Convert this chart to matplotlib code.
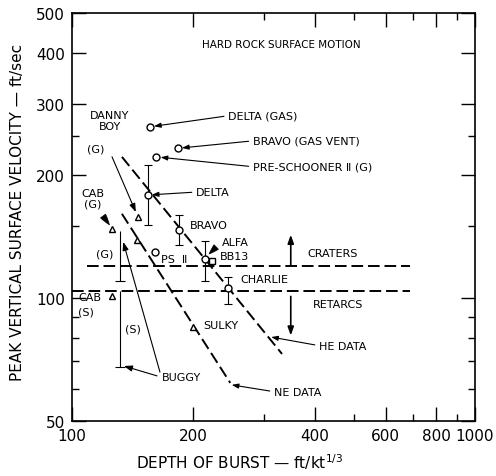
import numpy as np
import matplotlib.pyplot as plt

plt.rcParams['font.family'] = ['DejaVu Sans']
plt.rcParams['mathtext.default'] = 'regular'

# open circles (depth of burst ft/kt^1/3, peak velocity ft/sec)
circ_x = [156, 183, 162, 154, 184, 214, 244, 161]
circ_y = [263, 233, 222, 179, 147, 125, 106, 130]

# open triangles: DANNY BOY (G), CAB (G), unlabeled, CAB (S), SULKY
tri_x = [146, 126, 145, 126, 200]
tri_y = [158, 148, 139, 101, 85]

# square: BB13
sq_x = [222]
sq_y = [123]

# error bars on DELTA, BRAVO, ALFA, CHARLIE
err_x = [154, 184, 214, 244]
err_lo = [151, 135, 110, 97]
err_hi = [212, 160, 138, 113]

# BUGGY ranges, (G) and (S)
buggy_x = [131.5, 131.5]
buggy_lo = [110, 68]
buggy_hi = [146, 104]

# fitted lines
he_x = [133, 332]
he_y = [222, 73]
ne_x = [133, 247]
ne_y = [161, 62]

# crater / retarc boundaries
craters_y = 120
craters_x = [109, 690]
retarcs_y = 104
retarcs_x = [100, 690]

fig = plt.figure(figsize=(4.96, 4.77), dpi=100)
ax = fig.add_axes([72 / 496, 55 / 477, 403 / 496, 408 / 477])
ax.set_xscale('log')
ax.set_yscale('log')
ax.set_xlim(100, 1000)
ax.set_ylim(50, 500)

dash = (6, 2.5)
ax.plot(he_x, he_y, color='black', lw=1.4, dashes=dash)
ax.plot(ne_x, ne_y, color='black', lw=1.4, dashes=dash)
ax.plot(craters_x, [craters_y] * 2, color='black', lw=1.4, dashes=dash)
ax.plot(retarcs_x, [retarcs_y] * 2, color='black', lw=1.4, dashes=dash)

# error bars drawn from their end values
ax.vlines(err_x, err_lo, err_hi, color='black', lw=0.8)
ax.plot(err_x + err_x, err_lo + err_hi, ls='none', marker='_', ms=6, mew=0.8, color='black')
ax.vlines(buggy_x, buggy_lo, buggy_hi, color='black', lw=0.8)
ax.plot(buggy_x, buggy_lo, ls='none', marker='_', ms=7, mew=0.8, color='black')

ax.plot(circ_x, circ_y, ls='none', marker='o', ms=5, mfc='white', mec='black', mew=1)
ax.plot(tri_x, tri_y, ls='none', marker='^', ms=5, mfc='white', mec='black', mew=1)
ax.plot(sq_x, sq_y, ls='none', marker='s', ms=4.5, mfc='white', mec='black', mew=1)

fs = 8
arrow = dict(arrowstyle='-|>,head_length=0.5,head_width=0.18', color='black', lw=0.8,
             shrinkA=1, shrinkB=3, relpos=(0, 0.5))

# labels with arrows to their circles
ax.annotate('DELTA (GAS)', xy=(circ_x[0], circ_y[0]), xytext=(244, 280), ha='left', va='center',
            fontsize=fs, arrowprops=arrow)
ax.annotate('BRAVO (GAS VENT)', xy=(circ_x[1], circ_y[1]), xytext=(281, 243), ha='left', va='center',
            fontsize=fs, arrowprops=arrow)
ax.annotate('PRE-SCHOONER Ⅱ (G)', xy=(circ_x[2], circ_y[2]), xytext=(281, 210), ha='left', va='center',
            fontsize=fs, arrowprops=arrow)
ax.annotate('DELTA', xy=(circ_x[3], circ_y[3]), xytext=(203, 182), ha='left', va='center',
            fontsize=fs, arrowprops=arrow)
ax.annotate('HE DATA', xy=(312, 80.3), xytext=(410, 76.5), ha='left', va='center',
            fontsize=fs, arrowprops=dict(arrow, shrinkB=0))
ax.annotate('NE DATA', xy=(249, 61.3), xytext=(317, 59), ha='left', va='center',
            fontsize=fs, arrowprops=dict(arrow, shrinkB=0))

thin = dict(arrowstyle='-|>,head_length=0.5,head_width=0.18', color='black', lw=0.8,
            shrinkA=0, shrinkB=0)
wedge = dict(arrowstyle='wedge,tail_width=0.45,shrink_factor=0.6', color='black', lw=0.5,
             shrinkA=0, shrinkB=2)
ax.annotate('', xy=(144, 162.6), xytext=(125.7, 222), arrowprops=thin)   # DANNY BOY
ax.annotate('', xy=(125, 149.4), xytext=(119.4, 159), arrowprops=wedge)  # CAB (G)
ax.annotate('', xy=(216.5, 127), xytext=(228, 133.5), arrowprops=wedge)  # ALFA
ax.annotate('', xy=(134, 137.4), xytext=(165.3, 65.9), arrowprops=thin)  # BUGGY (G)
ax.annotate('', xy=(134.5, 68.2), xytext=(162.5, 64.5), arrowprops=thin) # BUGGY (S)
ax.annotate('', xy=(349, 143), xytext=(349, craters_y), arrowprops=dict(thin, lw=1.2))
ax.annotate('', xy=(349, 81), xytext=(349, 101), arrowprops=dict(thin, lw=1.2))

labels = [
    ('HARD ROCK SURFACE MOTION', 330, 420, 'center', 7.5),
    ('DANNY\nBOY', 124, 272, 'center', fs),
    ('(G)', 114.7, 233, 'center', fs),
    ('CAB\n(G)', 112.5, 176, 'center', fs),
    ('(G)', 120.7, 129, 'center', fs),
    ('CAB', 103.5, 100.4, 'left', fs),
    ('(S)', 103.5, 92.5, 'left', fs),
    ('(S)', 141.7, 84.1, 'center', fs),
    ('BRAVO', 196, 151, 'left', fs),
    ('ALFA', 235.6, 137.4, 'left', fs),
    ('BB13', 232.9, 126.9, 'left', fs),
    ('PS  Ⅱ', 166, 124.7, 'left', fs),
    ('CHARLIE', 261, 111.4, 'left', fs),
    ('SULKY', 211.4, 86, 'left', fs),
    ('BUGGY', 167, 64.1, 'left', fs),
    ('CRATERS', 383, 129, 'left', fs),
    ('RETARCS', 396, 96.8, 'left', fs),
]
for txt, x, y, ha, size in labels:
    ax.text(x, y, txt, ha=ha, va='center', fontsize=size, linespacing=1.1)

x_major = [100, 200, 400, 600, 800, 1000]
x_minor = [300, 500, 700, 900]
y_major = [50, 100, 200, 300, 400, 500]
y_minor = [60, 70, 80, 90, 150, 250]
ax.set_xticks(x_major, [str(v) for v in x_major])
ax.set_xticks(x_minor, minor=True)
ax.set_yticks(y_major, [str(v) for v in y_major])
ax.set_yticks(y_minor, minor=True)
ax.xaxis.set_minor_formatter(plt.NullFormatter())
ax.yaxis.set_minor_formatter(plt.NullFormatter())
ax.tick_params(which='both', direction='in', top=True, right=True, labelsize=11, width=1)
ax.tick_params(which='major', length=10, pad=5)
ax.tick_params(which='minor', length=5)
for s in ax.spines.values():
    s.set_linewidth(1.2)

fig.text(240 / 496, 1 - 462 / 477, r'DEPTH OF BURST — ft/kt$^{1/3}$', ha='center', va='center', fontsize=11)
fig.text(18 / 496, 1 - 212 / 477, 'PEAK VERTICAL SURFACE VELOCITY — ft/sec', rotation=90,
         ha='center', va='center', fontsize=11)

fig.savefig('out.png', dpi=100)
